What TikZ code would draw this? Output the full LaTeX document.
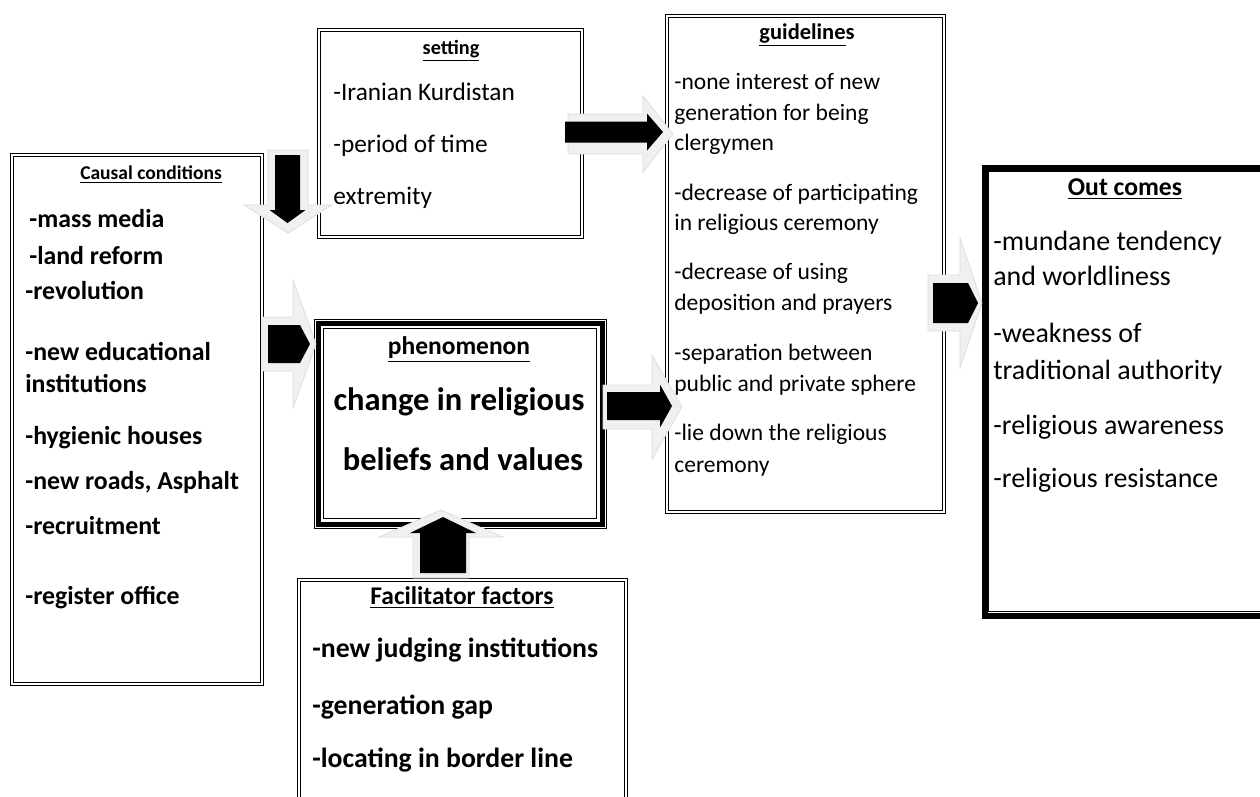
\documentclass[tikz,border=0pt]{standalone}
\usepackage{fontspec}
\setmainfont{Carlito}
\newdimen\pxu \pxu=0.02cm
\newcommand{\blockarrow}[6]{%
  \path[#1,#2] (0,-#4) -- (#3,-#4) -- (#3,-#6) -- ({#3+#5},0) -- (#3,#6) -- (#3,#4) -- (0,#4) -- cycle;}
\begin{document}
\begin{tikzpicture}[x=0.02cm,y=-0.02cm,
    dbox/.style={draw, double, double distance=1.3pt, line width=.5pt, inner sep=0pt, anchor=north west},
    txt/.style={inner sep=0pt, anchor=west, text height=1.6ex, text depth=.4ex, yshift=-2.5\pxu},
    hd/.style={txt, anchor=center},
    fc/.style={font=\fontsize{14.7pt}{17pt}\selectfont\bfseries},
    fs/.style={font=\fontsize{14.4pt}{17pt}\selectfont},
    fg/.style={font=\fontsize{13.4pt}{16pt}\selectfont},
    fo/.style={font=\fontsize{15.9pt}{19pt}\selectfont},
    ff/.style={font=\fontsize{15.8pt}{19pt}\selectfont\bfseries},
    fp/.style={font=\fontsize{18.5pt}{22pt}\selectfont\bfseries},
    bev/.style={fill=black!6, draw=black!14, line width=.4pt},
    body/.style={fill=black}]
  \path[use as bounding box] (0,0) rectangle (1260,796);
  \clip (0,0) rectangle (1260,796);
  \node[dbox, minimum width=250\pxu, minimum height=529\pxu] (cause) at (11.5,154.5) {};
  \node[dbox, minimum width=263\pxu, minimum height=207\pxu] (sett) at (318.5,29.5) {};
  \node[dbox, minimum width=277\pxu, minimum height=496\pxu] (guide) at (666.5,15.5) {};
  \node[dbox, minimum width=327\pxu, minimum height=300\pxu] (facil) at (298.5,579.5) {};
  \node[draw, line width=.6pt, inner sep=0pt, anchor=north west,
    minimum width=292\pxu, minimum height=209\pxu] (phen) at (313.5,318.5) {};
  \draw[line width=5\pxu] ([xshift=4.5\pxu,yshift=-4.5\pxu]phen.north west)
    rectangle ([xshift=-4.5\pxu,yshift=4.5\pxu]phen.south east);
  \draw[line width=.6pt] ([xshift=10\pxu,yshift=-10\pxu]phen.north west)
    rectangle ([xshift=-10\pxu,yshift=10\pxu]phen.south east);
  \node[draw, line width=6\pxu, inner sep=0pt, anchor=north west,
    minimum width=330\pxu, minimum height=448\pxu] (outc) at (981.5,164.5) {};
  \draw[line width=.6pt] ([xshift=7\pxu,yshift=-7\pxu]outc.north west)
    rectangle ([xshift=-7\pxu,yshift=7\pxu]outc.south east);

  \node[hd, font=\fontsize{11.1pt}{13pt}\selectfont\bfseries] (ch) at (151,172) {\underline{Causal conditions}};
  \node[txt, fc] (c1) at (29,220) {-mass media};
  \node[txt, fc] (c2) at (29,257) {-land reform};
  \node[txt, fc] (c3) at (25,292) {-revolution};
  \node[txt, fc] (c4) at (25,353) {-new educational};
  \node[txt, fc] (c5) at (25,385) {institutions};
  \node[txt, fc] (c6) at (25,437) {-hygienic houses};
  \node[txt, fc] (c7) at (25,482) {-new roads, Asphalt};
  \node[txt, fc] (c8) at (25,527) {-recruitment};
  \node[txt, fc] (c9) at (25,597) {-register office};

  \node[hd, font=\fontsize{11.5pt}{13pt}\selectfont\bfseries] (sh) at (451,47) {\underline{setting}};
  \node[txt, fs] (s1) at (333,93) {-Iranian Kurdistan};
  \node[txt, fs] (s2) at (333,145) {-period of time};
  \node[txt, fs] (s3) at (333,197) {extremity};

  \node[hd, font=\fontsize{12.8pt}{15pt}\selectfont\bfseries] (gh) at (807,32) {\underline{guideline}s};
  \node[txt, fg] (g1) at (674,82) {-none interest of new};
  \node[txt, fg] (g2) at (674,113) {generation for being};
  \node[txt, fg] (g3) at (674,143) {clergymen};
  \node[txt, fg] (g4) at (674,193) {-decrease of participating};
  \node[txt, fg] (g5) at (674,223) {in religious ceremony};
  \node[txt, fg] (g6) at (674,272) {-decrease of using};
  \node[txt, fg] (g7) at (674,303) {deposition and prayers};
  \node[txt, fg] (g8) at (674,353) {-separation between};
  \node[txt, fg] (g9) at (674,384) {public and private sphere};
  \node[txt, fg] (g10) at (674,433) {-lie down the religious};
  \node[txt, fg] (g11) at (674,465) {ceremony};

  \node[hd, font=\fontsize{14.6pt}{17pt}\selectfont\bfseries] (oh) at (1125,188) {\underline{Out comes}};
  \node[txt, fo] (o1) at (993,243) {-mundane tendency};
  \node[txt, fo] (o2) at (993,278) {and worldliness};
  \node[txt, fo] (o3) at (993,335) {-weakness of};
  \node[txt, fo] (o4) at (993,372) {traditional authority};
  \node[txt, fo] (o5) at (993,427) {-religious awareness};
  \node[txt, fo] (o6) at (993,480) {-religious resistance};

  \node[hd, font=\fontsize{14.5pt}{17pt}\selectfont\bfseries] (ph) at (459,347) {\underline{phenomenon}};
  \node[hd, fp] (p1) at (459,403) {change in religious};
  \node[hd, fp] (p2) at (463,463) {beliefs and values};

  \node[hd, font=\fontsize{14.5pt}{17pt}\selectfont\bfseries] (fh) at (462,597) {\underline{Facilitator factors}};
  \node[txt, ff] (f1) at (312,650) {-new judging institutions};
  \node[txt, ff] (f2) at (312,707) {-generation gap};
  \node[txt, ff] (f3) at (312,760) {-locating in border line};

  \blockarrow{shift={(568,134)}}{bev}{75}{20}{30}{38}
  \blockarrow{shift={(565,132)}}{body}{82}{10.5}{16}{18.5}
  \blockarrow{shift={(603,407)}}{bev}{49}{22}{30}{52}
  \blockarrow{shift={(607,406)}}{body}{53}{14}{12}{21.5}
  \blockarrow{shift={(928,303)}}{bev}{32}{28}{22}{65}
  \blockarrow{shift={(933,303)}}{body}{35}{20}{10}{20}
  \blockarrow{shift={(262,344)}}{bev}{31}{27}{23}{64}
  \blockarrow{shift={(268,344)}}{body}{32}{19}{10}{19}
  \blockarrow{shift={(288,150)},rotate=-90}{bev}{55}{20}{28}{44}
  \blockarrow{shift={(287.5,155)},rotate=-90}{body}{55}{12.5}{13}{18}
  \blockarrow{shift={(441,578)},rotate=90}{bev}{41}{28}{27}{62}
  \blockarrow{shift={(443,573)},rotate=90}{body}{40}{23}{16}{33}
\end{tikzpicture}
\end{document}
